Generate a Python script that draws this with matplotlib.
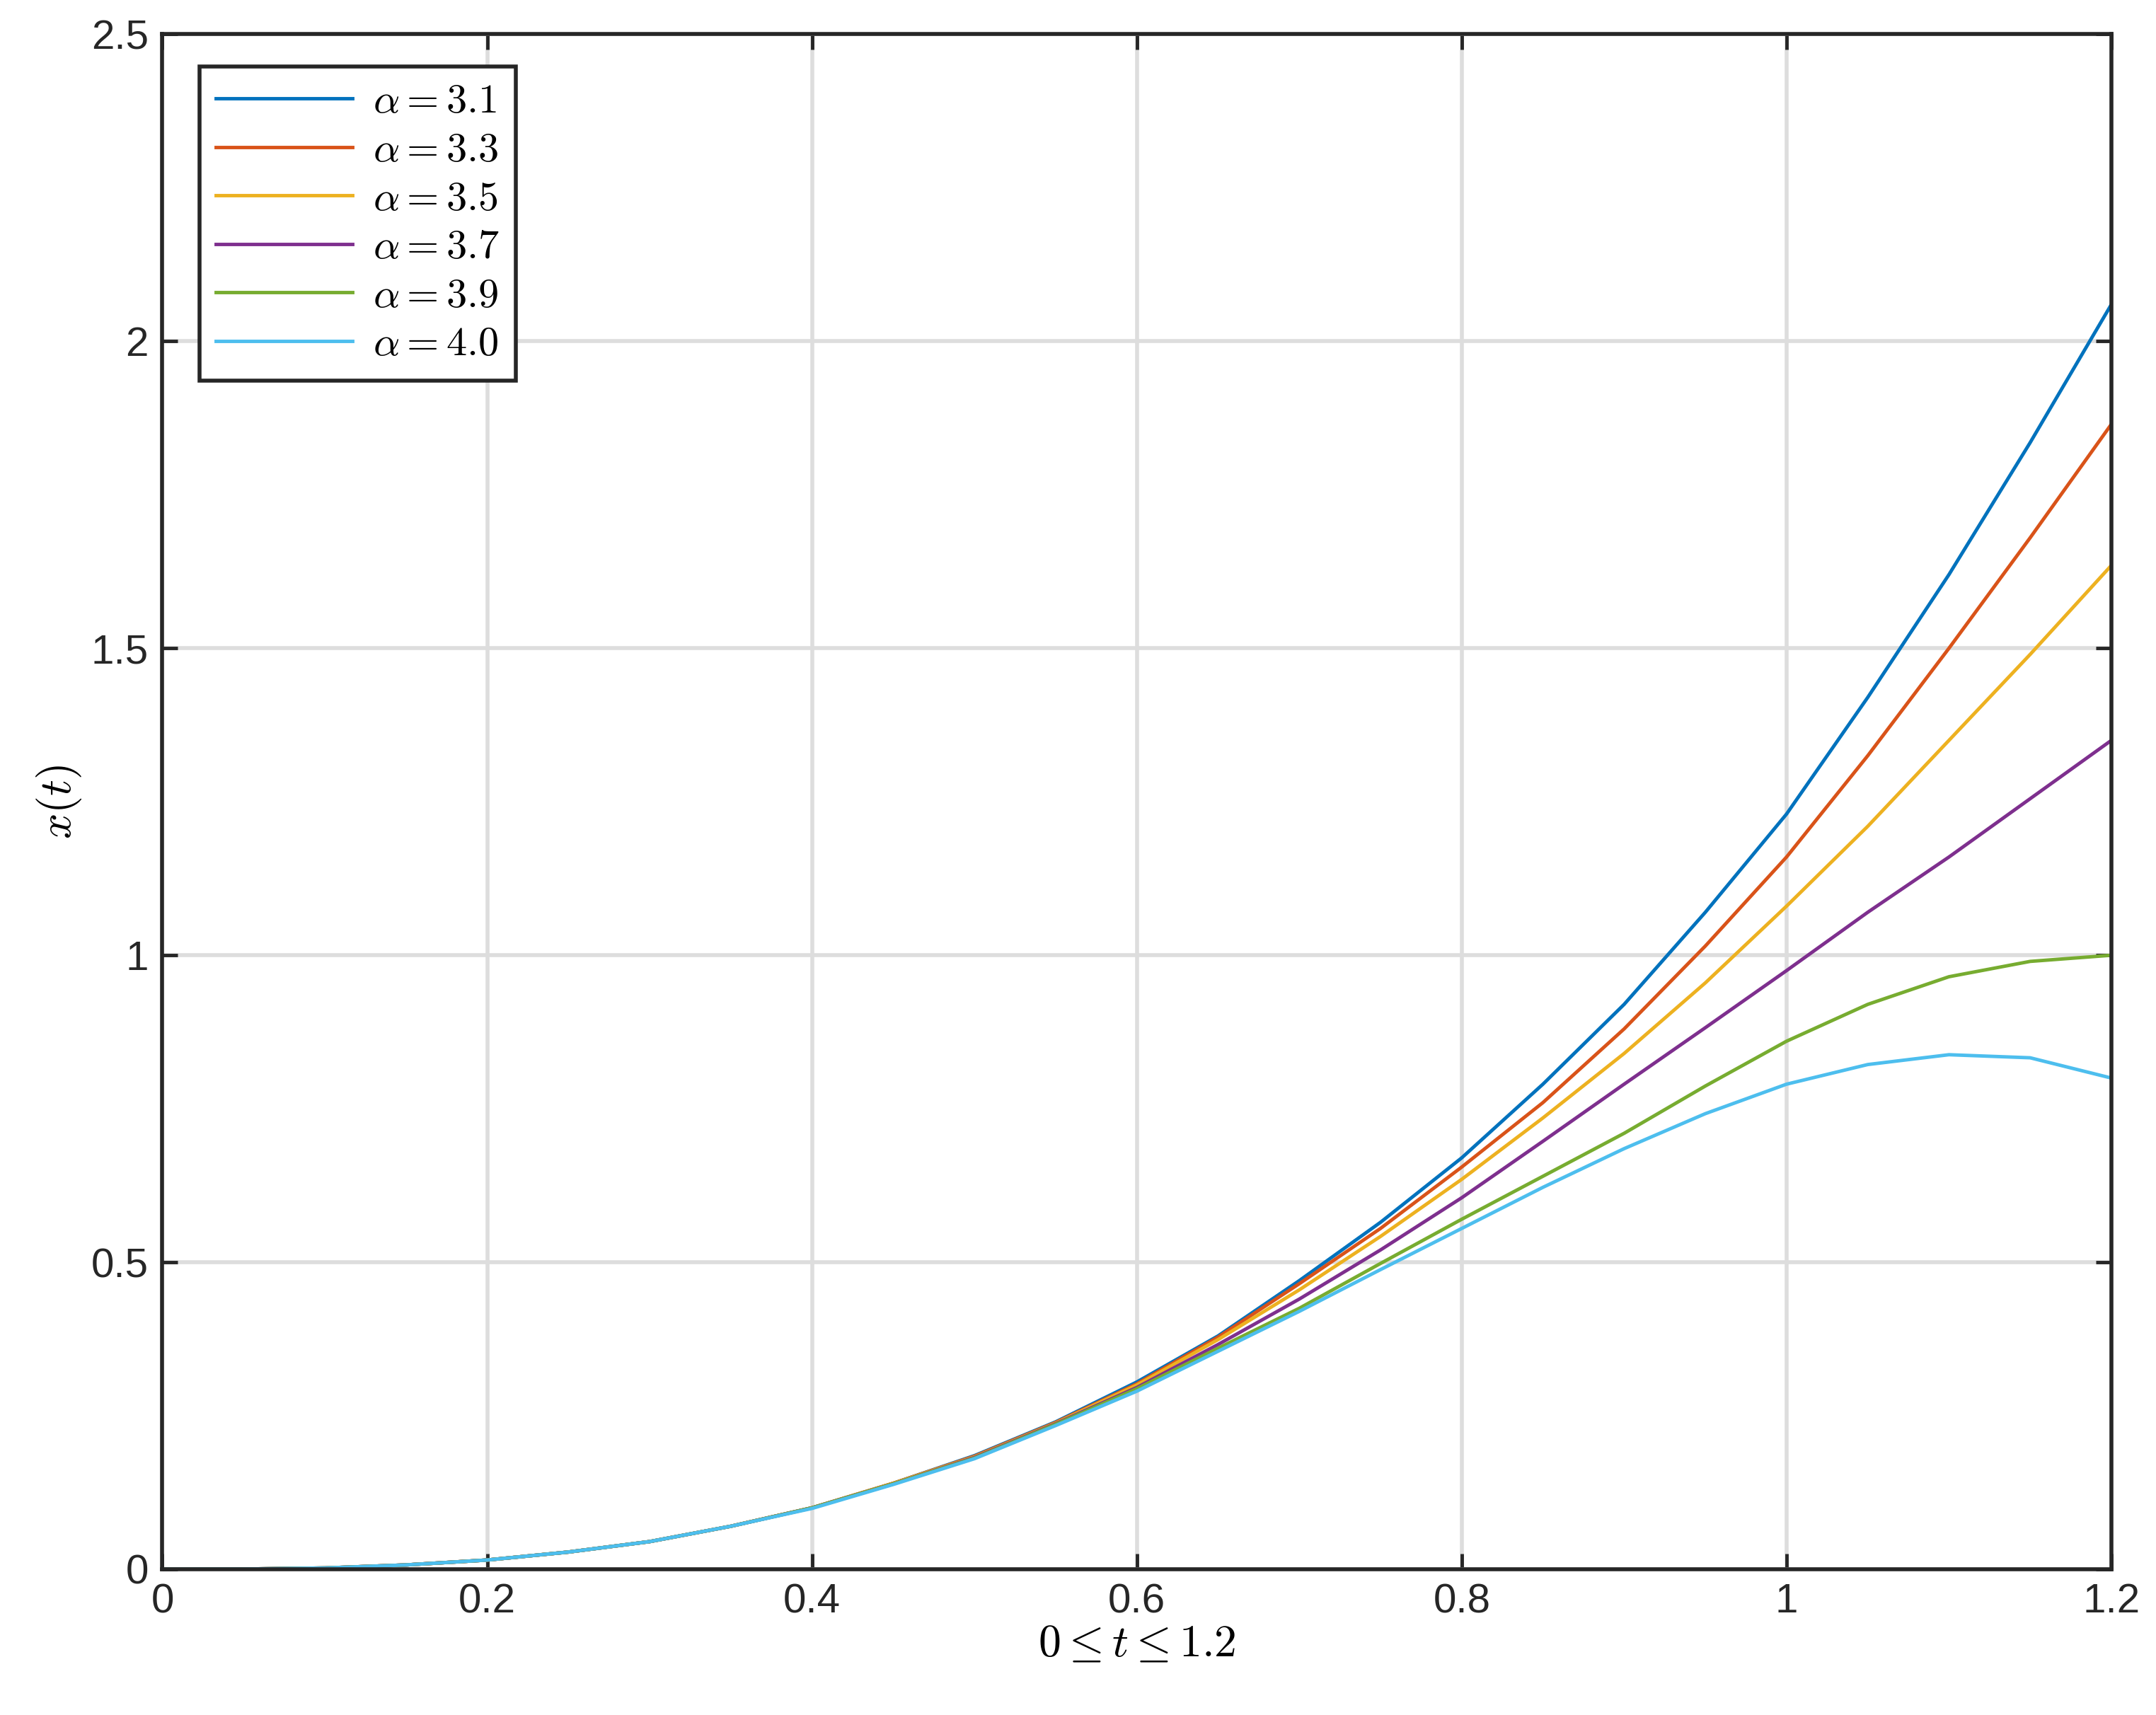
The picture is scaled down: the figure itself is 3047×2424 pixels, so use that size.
import matplotlib
matplotlib.use("Agg")
import matplotlib.pyplot as plt

t = [0, 0.05, 0.1, 0.15, 0.2, 0.25, 0.3, 0.35, 0.4, 0.45, 0.5, 0.55, 0.6, 0.65, 0.7, 0.75,
     0.8, 0.85, 0.9, 0.95, 1.0, 1.05, 1.1, 1.15, 1.2]
alphas = ["3.1", "3.3", "3.5", "3.7", "3.9", "4.0"]
x31 = [0, 0.0003, 0.002, 0.007, 0.015, 0.028, 0.045, 0.07, 0.10, 0.14, 0.185, 0.240, 0.305, 0.380, 0.47, 0.565,
       0.67, 0.79, 0.92, 1.07, 1.23, 1.42, 1.62, 1.835, 2.06]
x33 = [0, 0.0003, 0.002, 0.007, 0.015, 0.028, 0.045, 0.07, 0.10, 0.14, 0.184, 0.239, 0.302, 0.378, 0.465, 0.555,
       0.655, 0.76, 0.88, 1.015, 1.16, 1.325, 1.50, 1.68, 1.865]
x35 = [0, 0.0003, 0.002, 0.007, 0.015, 0.028, 0.045, 0.07, 0.10, 0.14, 0.183, 0.238, 0.300, 0.374, 0.455, 0.542,
       0.635, 0.735, 0.84, 0.955, 1.08, 1.21, 1.35, 1.49, 1.635]
x37 = [0, 0.0003, 0.002, 0.007, 0.015, 0.028, 0.045, 0.07, 0.10, 0.139, 0.182, 0.237, 0.296, 0.366, 0.44, 0.52,
       0.605, 0.697, 0.79, 0.882, 0.975, 1.07, 1.16, 1.255, 1.35]
x39 = [0, 0.0003, 0.002, 0.007, 0.015, 0.028, 0.045, 0.07, 0.10, 0.139, 0.181, 0.236, 0.294, 0.360, 0.425, 0.498,
       0.57, 0.64, 0.71, 0.787, 0.86, 0.92, 0.965, 0.99, 1.0]
x40 = [0, 0.0003, 0.002, 0.007, 0.015, 0.028, 0.045, 0.07, 0.099, 0.138, 0.180, 0.234, 0.290, 0.355, 0.42, 0.488,
       0.555, 0.622, 0.685, 0.742, 0.79, 0.822, 0.838, 0.833, 0.80]
series = [x31, x33, x35, x37, x39, x40]
colors = ["#0072BD", "#D95319", "#EDB120", "#7E2F8E", "#77AC30", "#4DBEEE"]

plt.rcParams['mathtext.fontset'] = 'cm'
plt.rcParams['font.family'] = ['Liberation Sans', 'DejaVu Sans']
fig = plt.figure(figsize=(30.47, 24.24), dpi=100)
ax = fig.add_axes([0.0753, 0.085, 0.904, 0.895])
for a, y, c in zip(alphas, series, colors):
    ax.plot(t, y, color=c, lw=3.5, label=r"$\alpha = %s$" % a)
ax.set_xlim(0, 1.2)
ax.set_ylim(0, 2.5)
ax.set_xticks([0, 0.2, 0.4, 0.6, 0.8, 1, 1.2])
ax.set_xticklabels(["0", "0.2", "0.4", "0.6", "0.8", "1", "1.2"])
ax.set_yticks([0, 0.5, 1, 1.5, 2, 2.5])
ax.set_yticklabels(["0", "0.5", "1", "1.5", "2", "2.5"])
ax.grid(True, color="#DDDDDD", lw=4)
ax.set_axisbelow(True)
ax.tick_params(direction='in', length=16, width=3.5, labelsize=42, colors="#262626",
               top=True, right=True, pad=14)
for s in ax.spines.values():
    s.set_linewidth(4)
    s.set_color("#262626")
ax.set_xlabel(r"$0 \leq t \leq 1.2$", fontsize=46, labelpad=2)
ax.set_ylabel(r"$x(t)$", fontsize=46, labelpad=8)
leg = ax.legend(loc='upper left', fontsize=42, fancybox=False, edgecolor="#262626",
                framealpha=1, borderpad=0.4, handlelength=3.3, handletextpad=0.5,
                labelspacing=0.25, borderaxespad=0, bbox_to_anchor=(0.019, 0.979))
leg.get_frame().set_linewidth(4)
fig.savefig("out.png", dpi=100)
